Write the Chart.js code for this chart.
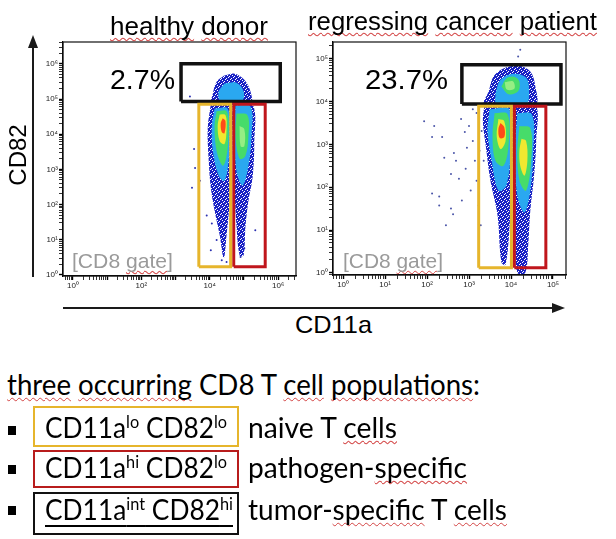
<!DOCTYPE html>
<html lang="en">
<head>
<meta charset="UTF-8">
<title>CD11a / CD82 populations</title>
<script src="https://cdn.jsdelivr.net/npm/chart.js"></script>
<style>
  body { margin: 0; width: 616px; height: 539px; position: relative; background: #fff; overflow: hidden; }
  canvas { position: absolute; }
  .t { position: absolute; white-space: nowrap; line-height: 1; transform-origin: 0 0; color: #000;
       font-family: "Liberation Sans", Arial, sans-serif; }
  .c { font-family: Lato, "Open Sans", sans-serif; }
  .wavy { text-decoration: underline wavy rgba(205, 40, 40, 0.85); text-decoration-thickness: 1px;
          text-underline-offset: 2px; text-decoration-skip-ink: none; }
  .grey { color: #9a9a9a; }
  sup { font-size: 0.62em; vertical-align: 0.6em; line-height: 0; }
  .sq { position: absolute; left: 8px; width: 8px; height: 9px; background: #000; }
  .box { position: absolute; left: 33px; width: 206px; box-sizing: border-box; border: 2px solid; }
  .line { position: absolute; background: #1a1a1a; }
  .head { position: absolute; width: 0; height: 0; }
</style>
</head>
<body>
<canvas id="donor" width="271" height="258" style="left:29px;top:38px;"></canvas>
<canvas id="patient" width="267" height="257" style="left:303px;top:38px;"></canvas>

<!-- axis arrows -->
<div class="line" style="left:32px;top:46px;width:2px;height:231px;"></div>
<div class="head" style="left:28px;top:35px;border-left:5px solid transparent;border-right:5px solid transparent;border-bottom:13px solid #1a1a1a;"></div>
<div class="line" style="left:63px;top:307px;width:492px;height:2px;"></div>
<div class="head" style="left:552px;top:303px;border-top:5.5px solid transparent;border-bottom:5.5px solid transparent;border-left:13px solid #1a1a1a;"></div>

<div class="t" style="left:18px;top:155px;font-size:24px;transform-origin:50% 50%;transform:translate(-50%,-50%) rotate(-90deg);">CD82</div>
<div class="t fit" data-w="77" style="left:295px;top:313px;font-size:24px;">CD11a</div>

<div class="t fit" data-w="158" style="left:110px;top:14px;font-size:25px;"><span class="wavy">healthy</span> <span class="wavy">donor</span></div>
<div class="t fit" data-w="289" style="left:308px;top:9px;font-size:25px;"><span class="wavy">regressing</span> <span class="wavy">cancer</span> <span class="wavy">patient</span></div>

<div id="pctDonor" class="t fit" data-w="65" style="left:110px;top:66px;font-size:28px;"></div>
<div id="pctPatient" class="t fit" data-w="83" style="left:365px;top:66px;font-size:28px;"></div>

<div class="t grey fit" data-w="101" style="left:72px;top:250px;font-size:21px;">[CD8 <span class="wavy">gate</span>]</div>
<div class="t grey fit" data-w="100" style="left:343px;top:250px;font-size:21px;">[CD8 <span class="wavy">gate</span>]</div>

<!-- legend text below -->
<div class="t c fit" data-w="473" style="left:7px;top:370px;font-size:28px;"><span class="wavy">three</span> <span class="wavy">occurring</span> CD8 T <span class="wavy">cell</span> <span class="wavy">populations</span>:</div>

<div class="sq" style="top:426px;"></div>
<div class="box" style="top:406px;height:41px;border-color:#e6b52c;"></div>
<div class="t c fit" data-w="182" style="left:45px;top:413px;font-size:28px;">CD11a<sup>lo</sup> CD82<sup>lo</sup></div>
<div class="t c fit" data-w="149" style="left:248px;top:413px;font-size:28px;">naive T <span class="wavy">cells</span></div>

<div class="sq" style="top:465px;"></div>
<div class="box" style="top:450px;height:38px;border-color:#b81c1c;"></div>
<div class="t c fit" data-w="182" style="left:45px;top:453px;font-size:28px;">CD11a<sup>hi</sup> CD82<sup>lo</sup></div>
<div class="t c fit" data-w="219" style="left:248px;top:453px;font-size:28px;">pathogen-<span class="wavy">specific</span></div>

<div class="sq" style="top:506px;"></div>
<div class="box" style="top:492px;height:43px;border-color:#111;"></div>
<div class="t c fit" data-w="188" style="left:45px;top:495px;font-size:28px;text-decoration:underline;text-decoration-thickness:2px;text-underline-offset:5px;">CD11a<sup>int</sup> CD82<sup>hi</sup></div>
<div class="t c fit" data-w="259" style="left:248px;top:495px;font-size:28px;">tumor-<span class="wavy">specific</span> T <span class="wavy">cells</span></div>

<script>
// all coordinates are log10 decades (x = CD11a, y = CD82)
var donorLabel = '2.7%';
var patientLabel = '23.7%';

var donorXLabels = [0, 2, 4, 6];
var donorYLabels = [0, 1, 2, 3, 4, 5, 6];
var patientXLabels = [0, 1, 2, 3, 4, 5];
var patientYLabels = [0, 1, 2, 3, 4, 5];

// gates: [xFrom, xTo, yFrom, yTo]
var donorNaiveGate = [3.68, 4.61, 0.23, 4.85];
var donorPathogenGate = [4.70, 5.62, 0.23, 4.85];
var donorTumorGate = [3.16, 6.06, 4.93, 6.00];
var patientNaiveGate = [3.23, 4.01, 0.12, 3.89];
var patientPathogenGate = [4.08, 4.83, 0.12, 3.89];
var patientTumorGate = [2.83, 5.19, 3.94, 4.86];

// density outlines, outermost (blue) to core (red)
var donorBlue = [
  [[4.03,4.85],[4.61,4.85],[4.61,3.52],[4.58,2.11],[4.49,1.13],[4.41,0.48],[4.29,1.13],[4.14,1.83],[4.03,2.48],[3.97,3.24],[3.94,4.17]],
  [[4.67,4.85],[5.25,4.85],[5.30,3.72],[5.25,2.76],[5.13,2.11],[5.04,1.35],[4.99,0.56],[4.87,0.56],[4.78,1.41],[4.72,2.39],[4.67,3.52]],
  [[4.41,5.66],[4.72,5.72],[5.01,5.55],[5.19,5.21],[5.19,4.85],[4.06,4.85],[4.09,5.15],[4.20,5.49]]
];
var donorCyan = [
  [[4.14,4.73],[4.52,4.73],[4.58,4.08],[4.55,3.24],[4.43,2.68],[4.26,2.82],[4.09,3.52],[4.06,4.23]],
  [[4.75,4.82],[5.19,4.79],[5.22,3.94],[5.13,3.10],[4.96,2.54],[4.78,2.96],[4.72,4.08]],
  [[4.43,5.44],[4.78,5.46],[4.99,5.21],[4.93,4.93],[4.32,4.93],[4.26,5.21]]
];
var donorGreen = [
  [[4.20,4.65],[4.49,4.65],[4.55,4.08],[4.49,3.38],[4.38,3.10],[4.20,3.52],[4.14,4.23]],
  [[4.78,4.59],[5.10,4.54],[5.13,3.94],[5.04,3.38],[4.87,3.30],[4.75,3.94]]
];
var donorLime = [
  [[4.87,4.23],[5.01,4.14],[5.01,3.66],[4.90,3.66]]
];
var donorYellow = [
  [[4.29,4.56],[4.46,4.54],[4.49,4.14],[4.43,3.72],[4.29,3.80],[4.23,4.23]]
];
var donorRed = [
  [[4.38,4.45],[4.46,4.37],[4.43,4.03],[4.35,4.06],[4.32,4.31]]
];
var donorDots = [[3.54,3.58],[3.57,3.04],[3.48,2.48],[3.71,2.68],[4.06,1.46],[4.03,0.70],[4.35,0.42],[4.90,0.51],
  [5.01,0.76],[4.20,0.99],[5.33,1.27],[3.91,1.69],[4.84,0.99],[3.42,5.07],[4.49,0.37]];

var patientBlue = [
  [[3.37,3.94],[4.03,3.94],[4.03,2.38],[3.96,1.00],[3.87,0.19],[3.77,0.25],[3.68,1.34],[3.51,2.15],[3.40,2.96],[3.33,3.54]],
  [[4.06,3.94],[4.58,3.94],[4.60,3.08],[4.55,2.27],[4.46,1.46],[4.41,0.65],[4.34,0.00],[4.15,0.00],[4.10,0.76],[4.08,1.92],[4.06,3.08]],
  [[3.47,4.24],[3.58,4.58],[3.82,4.77],[4.17,4.84],[4.46,4.70],[4.58,4.35],[4.58,3.94],[3.37,3.94]]
];
var patientCyan = [
  [[3.49,3.82],[3.96,3.82],[3.99,2.85],[3.89,2.04],[3.70,1.92],[3.54,2.62],[3.44,3.31]],
  [[4.15,3.73],[4.50,3.70],[4.53,2.85],[4.46,1.92],[4.32,1.41],[4.15,1.81],[4.10,2.85]],
  [[3.63,4.19],[3.75,4.51],[4.06,4.65],[4.36,4.56],[4.43,4.24],[4.36,3.94],[3.66,3.94]]
];
var patientGreen = [
  [[3.61,3.73],[3.92,3.70],[3.94,2.96],[3.82,2.50],[3.63,2.62],[3.56,3.19]],
  [[4.20,3.43],[4.46,3.38],[4.48,2.62],[4.36,1.92],[4.20,2.15],[4.15,2.85]],
  [[3.77,4.35],[3.89,4.54],[4.08,4.58],[4.20,4.47],[4.17,4.24],[3.94,4.17]]
];
var patientLime = [
  [[3.85,4.45],[4.05,4.47],[4.08,4.30],[3.90,4.28]]
];
var patientYellow = [
  [[3.70,3.59],[3.84,3.54],[3.87,3.08],[3.75,2.89],[3.66,3.19]],
  [[4.25,3.13],[4.36,3.08],[4.39,2.62],[4.32,2.27],[4.22,2.50],[4.20,2.85]]
];
var patientRed = [
  [[3.75,3.50],[3.84,3.40],[3.84,3.17],[3.73,3.15],[3.70,3.36]]
];
var patientDots = [[1.93,3.54],[2.17,3.43],[2.12,3.17],[2.36,3.17],[2.41,2.69],[2.64,2.80],[2.69,2.62],[2.57,2.31],
  [2.12,1.85],[2.29,1.78],[2.29,1.57],[2.57,1.50],[2.62,1.37],[2.83,1.69],[2.92,2.43],[2.95,2.92],[2.81,3.59],
  [3.00,3.43],[3.09,3.08],[3.14,2.62],[3.18,2.15],[3.04,1.92],[3.23,1.57],[3.28,1.11],[3.18,3.73],[3.30,3.31],
  [2.76,2.20],[2.90,3.29],[2.45,1.11],[3.35,2.62],[3.25,2.85],[3.09,3.82],[4.22,5.21],[4.17,5.05]];

document.getElementById('pctDonor').textContent = donorLabel;
document.getElementById('pctPatient').textContent = patientLabel;

var sup = ['\u2070', '\u00b9', '\u00b2', '\u00b3', '\u2074', '\u2075', '\u2076'];

// speckled fill for the sparse outer rim of each population
function speckle(color) {
  var mask = ['11011', '10111', '11101', '01111', '11110'];
  var cv = document.createElement('canvas');
  cv.width = 5; cv.height = 5;
  var c = cv.getContext('2d');
  c.fillStyle = color;
  mask.forEach(function (row, y) {
    for (var x = 0; x < 5; x++) if (row[x] === '1') c.fillRect(x, y, 1, 1);
  });
  return c.createPattern(cv, 'repeat');
}

function pt(p) { return { x: Math.pow(10, p[0]), y: Math.pow(10, p[1]) }; }

function poly(shape) {
  var d = shape.map(pt);
  d.push(d[0]);
  return d;
}

function layer(shapes, color, order) {
  return shapes.map(function (s) {
    return { data: poly(s), showLine: true, fill: 'shape', backgroundColor: color, borderColor: color,
             borderWidth: 0, pointRadius: 0, tension: 0.35, order: order };
  });
}

function gate(g, color, width) {
  var d = [[g[0], g[2]], [g[1], g[2]], [g[1], g[3]], [g[0], g[3]], [g[0], g[2]]].map(pt);
  return { data: d, showLine: true, fill: false, borderColor: color, borderWidth: width,
           borderJoinStyle: 'miter', pointRadius: 0, tension: 0, order: 0 };
}

function dots(list, color) {
  return { data: list.map(pt), pointRadius: 1, pointBorderWidth: 0, backgroundColor: color, order: 8 };
}

function isDecade(v) {
  var e = Math.log10(v);
  return Math.abs(e - Math.round(e)) < 1e-6;
}

function logTicks(axis) {
  var lo = Math.floor(Math.log10(axis.min)), hi = Math.ceil(Math.log10(axis.max));
  var t = [];
  for (var e = lo; e <= hi; e++) {
    for (var k = 1; k < 10; k++) {
      var v = k * Math.pow(10, e);
      if (v >= axis.min && v <= axis.max) t.push({ value: v });
    }
  }
  axis.ticks = t;
}

function axis(range, labels, dir, size) {
  return {
    type: 'logarithmic',
    min: Math.pow(10, range[0]),
    max: Math.pow(10, range[1]),
    afterBuildTicks: logTicks,
    afterFit: function (s) {
      if (dir === 'x') s.height = size; else s.width = size;
      s.paddingTop = 0; s.paddingBottom = 0; s.paddingLeft = 0; s.paddingRight = 0;
    },
    ticks: {
      autoSkip: false, maxRotation: 0, padding: 1, color: '#222',
      font: { family: 'Liberation Sans', size: 8 },
      callback: function (v) {
        if (!isDecade(v)) return '';
        var e = Math.round(Math.log10(v));
        return labels.indexOf(e) >= 0 ? '10' + sup[e] : '';
      }
    },
    grid: {
      drawOnChartArea: false, drawTicks: true, tickLength: 4, color: '#000',
      tickWidth: function (c) { return c.tick && isDecade(c.tick.value) ? 1.4 : 0.8; }
    },
    border: { display: true, color: '#000', width: 1.2 }
  };
}

var framePlugin = {
  id: 'frame',
  afterDatasetsDraw: function (chart) {
    var a = chart.chartArea, c = chart.ctx;
    c.save();
    c.strokeStyle = '#111';
    c.lineWidth = 1.2;
    c.strokeRect(a.left, a.top, a.right - a.left, a.bottom - a.top);
    c.restore();
  }
};

function panel(id, sets, xr, yr, xLabels, yLabels, yWidth) {
  var datasets = [].concat(
    [gate(sets.naive, '#e6b52c', 3), gate(sets.pathogen, '#c0161c', 3), gate(sets.tumor, '#111', 3.5)],
    layer(sets.red, '#ff4a18', 1),
    layer(sets.yellow, '#f0e830', 2),
    layer(sets.lime, '#96ee84', 3),
    layer(sets.green, '#46dc6a', 4),
    layer(sets.cyan, '#2aa8f0', 5),
    layer(sets.blue, speckle('#1a22c4'), 6),
    [dots(sets.dots, sets.dotColor)]
  );
  return new Chart(document.getElementById(id), {
    type: 'scatter',
    data: { datasets: datasets },
    options: {
      responsive: false,
      animation: false,
      events: [],
      layout: { padding: { top: 2, right: 2, left: 0, bottom: 0 } },
      plugins: { legend: { display: false }, tooltip: { enabled: false } },
      scales: {
        x: axis(xr, xLabels, 'x', 20),
        y: axis(yr, yLabels, 'y', yWidth)
      }
    },
    plugins: [framePlugin]
  });
}

panel('donor', {
  naive: donorNaiveGate, pathogen: donorPathogenGate, tumor: donorTumorGate,
  blue: donorBlue, cyan: donorCyan, green: donorGreen, lime: donorLime, yellow: donorYellow, red: donorRed,
  dots: donorDots, dotColor: '#2a2fb0'
}, [-0.29, 6.52], [-0.03, 6.62], donorXLabels, donorYLabels, 34);

panel('patient', {
  naive: patientNaiveGate, pathogen: patientPathogenGate, tumor: patientTumorGate,
  blue: patientBlue, cyan: patientCyan, green: patientGreen, lime: patientLime, yellow: patientYellow, red: patientRed,
  dots: patientDots, dotColor: '#4a55a8'
}, [-0.24, 5.31], [-0.05, 5.39], patientXLabels, patientYLabels, 30);

// squeeze/stretch text blocks to the widths measured on the original
function fitText() {
  document.querySelectorAll('.fit').forEach(function (el) {
    el.style.transform = 'none';
    var w = el.getBoundingClientRect().width;
    if (w > 0) el.style.transform = 'scaleX(' + (el.dataset.w / w) + ')';
  });
}
fitText();
if (document.fonts) document.fonts.ready.then(fitText);
</script>
</body>
</html>
